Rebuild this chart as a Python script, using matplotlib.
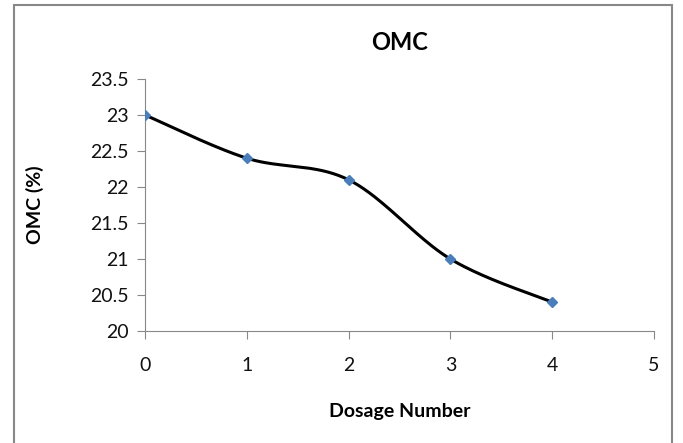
import numpy as np
import matplotlib.pyplot as plt
from matplotlib.patches import Rectangle

plt.rcParams['font.family'] = ['Lato', 'DejaVu Sans']

dosage = [0, 1, 2, 3, 4]
omc = [23.0, 22.4, 22.1, 21.0, 20.4]
xticks = [0, 1, 2, 3, 4, 5]
yticks = [20, 20.5, 21, 21.5, 22, 22.5, 23, 23.5]
ylabels = ['20', '20.5', '21', '21.5', '22', '22.5', '23', '23.5']


def smooth(xs, ys, n=40):
    # catmull-rom style smoothing like excel's smoothed line
    p = np.column_stack([xs, ys]).astype(float)
    p = np.vstack([p[0], p, p[-1]])
    out = []
    for i in range(1, len(p) - 2):
        p0, p1, p2, p3 = p[i - 1], p[i], p[i + 1], p[i + 2]
        c1 = p1 + (p2 - p0) / 6
        c2 = p2 - (p3 - p1) / 6
        t = np.linspace(0, 1, n)[:, None]
        seg = (1 - t) ** 3 * p1 + 3 * (1 - t) ** 2 * t * c1 + 3 * (1 - t) * t ** 2 * c2 + t ** 3 * p2
        out.append(seg)
    out = np.vstack(out)
    return out[:, 0], out[:, 1]


fig = plt.figure(figsize=(6.83, 4.43), dpi=100)
fig.patches.append(Rectangle((14 / 683, -0.05), 658 / 683, 1 - 5 / 443 + 0.05, transform=fig.transFigure,
                             fill=False, edgecolor='#888888', linewidth=1.5))
ax = fig.add_axes([145 / 683, 1 - 331 / 443, 509 / 683, 252 / 443])

sx, sy = smooth(dosage, omc)
ax.plot(sx, sy, color='black', linewidth=2.2, zorder=2)
ax.plot(dosage, omc, linestyle='none', marker='D', markersize=5.5, color='#4a7ebb', zorder=3)

ax.set_xlim(0, 5)
ax.set_ylim(20, 23.5)
ax.set_xticks(xticks)
ax.set_yticks(yticks)
ax.set_yticklabels(ylabels)
for s in ['top', 'right']:
    ax.spines[s].set_visible(False)
for s in ['left', 'bottom']:
    ax.spines[s].set_color('#888888')
ax.tick_params(axis='both', colors='#888888', labelcolor='#111111', labelsize=14, length=6, direction='out')
ax.tick_params(axis='x', pad=13)
ax.tick_params(axis='y', pad=6)

fig.text(400 / 683, 1 - 42 / 443, 'OMC', fontsize=17, fontweight='bold', ha='center', va='center')
fig.text(400 / 683, 1 - 412 / 443, 'Dosage Number', fontsize=14, fontweight='bold', ha='center', va='center')
fig.text(35 / 683, 1 - 205 / 443, 'OMC (%)', fontsize=14, fontweight='bold', ha='center', va='center',
         rotation=90)

fig.savefig('out.png', dpi=100)
